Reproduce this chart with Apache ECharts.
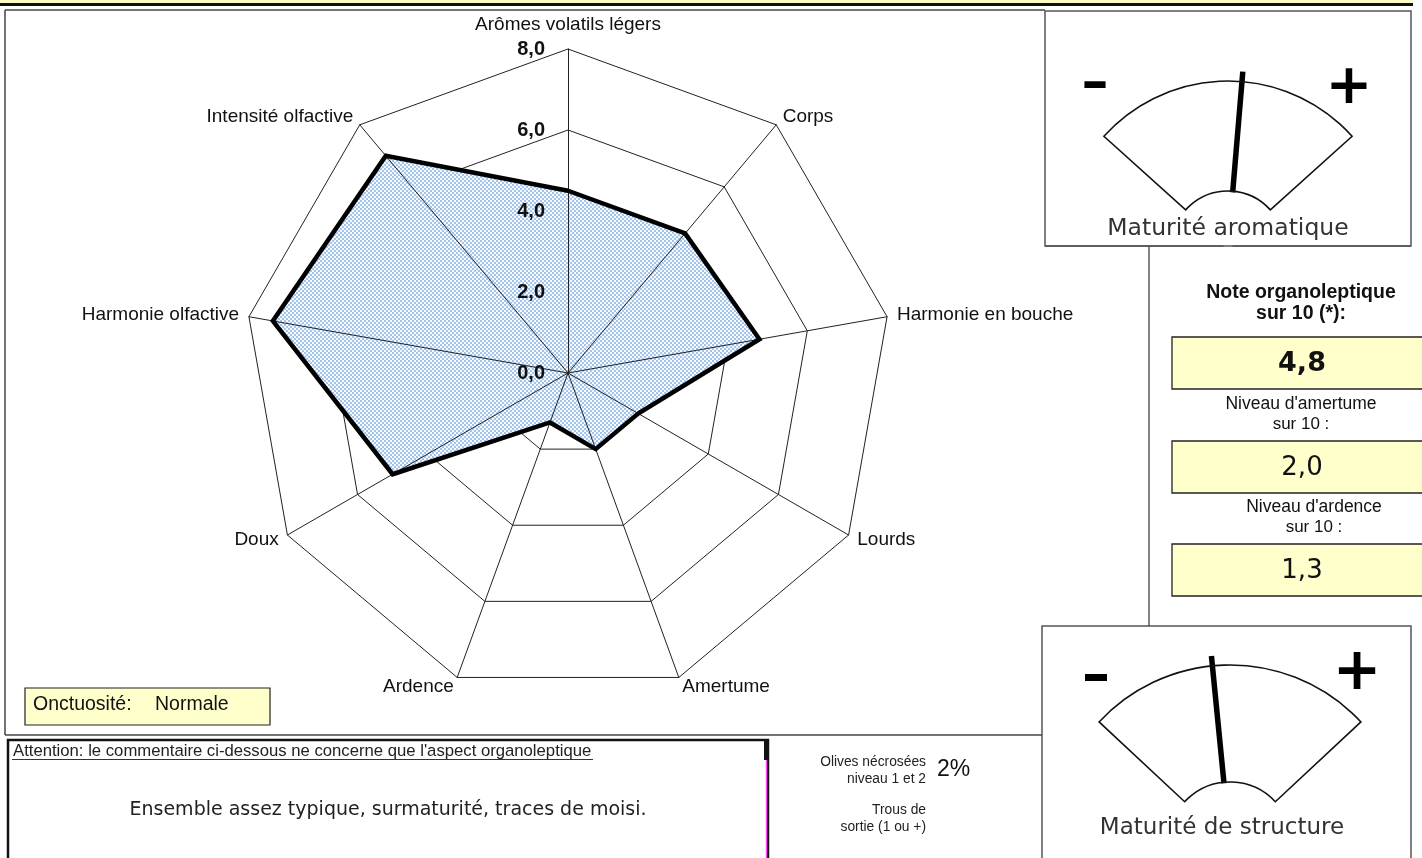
<!DOCTYPE html>
<html><head><meta charset="utf-8">
<script src="https://cdn.jsdelivr.net/npm/echarts@6.0.0/dist/echarts.min.js"></script>
<style>html,body{margin:0;padding:0;background:#fff}#c{width:1422px;height:858px}</style>
</head><body><div id="c"></div>
<script>
// ---- data (radar axes listed clockwise from the top) ----
const attributes = ['Arômes volatils légers', 'Corps', 'Harmonie en bouche', 'Lourds', 'Amertume', 'Ardence', 'Doux', 'Harmonie olfactive', 'Intensité olfactive'];
const profileValues = [4.5, 4.5, 4.8, 2.0, 2.0, 1.3, 5.0, 7.4, 7.0];
const scaleMin = 0;
const scaleMax = 8;
const scaleStep = 2;
const scoreTitles = [['Note organoleptique', 'sur 10 (*):'], ["Niveau d'amertume", 'sur 10 :'], ["Niveau d'ardence", 'sur 10 :']];
const scoreValues = [4.8, 2.0, 1.3];
const gaugeTitles = ['Maturité aromatique', 'Maturité de structure'];
const gaugeValues = [5.5, 4.4];
const necrosis = [['Olives nécrosées', 'niveau 1 et 2'], ['Trous de', 'sortie (1 ou +)']];
const necrosisValues = ['2%', ''];
const onctuosite = ['Onctuosité:', 'Normale'];
const commentHeader = "Attention: le commentaire ci-dessous ne concerne que l'aspect organoleptique";
const commentText = 'Ensemble assez typique, surmaturité, traces de moisi.';

// ---- helpers ----
const NARROW = '"Liberation Sans Narrow", "Arial Narrow", "Liberation Sans", sans-serif';
const SANS = '"Liberation Sans", Arial, sans-serif';
const VERD = '"DejaVu Sans", Verdana, sans-serif';
const fmt = v => v.toFixed(1).replace('.', ',');

function text(x, y, t, size, family, opt) {
  opt = opt || {};
  return { type: 'text', x: x, y: y, z: opt.z || 12, silent: true,
    style: { text: t, fontSize: size, fontFamily: family, fontWeight: opt.weight || 'normal',
      fill: opt.color || '#111', align: opt.align || 'center', verticalAlign: opt.valign || 'middle' } };
}
function line(x1, y1, x2, y2, color, w, z) {
  return { type: 'line', z: z || 1, silent: true, shape: { x1, y1, x2, y2 }, style: { stroke: color, lineWidth: w } };
}
function rect(x, y, w, h, fill, stroke, lw, z) {
  return { type: 'rect', z: z || 0, silent: true, shape: { x, y, width: w, height: h }, style: { fill: fill, stroke: stroke, lineWidth: lw } };
}

// dotted pattern fill (opaque, like the reference hatching)
const pat = document.createElement('canvas');
pat.width = 4; pat.height = 4;
const pc = pat.getContext('2d');
pc.fillStyle = '#f6f9fd'; pc.fillRect(0, 0, 4, 4);
pc.fillStyle = '#a3c4eb';
pc.fillRect(0, 0, 2, 2); pc.fillRect(2, 2, 2, 2);

// ECharts radar goes counter-clockwise: reorder so the picture reads clockwise
const order = [0].concat(attributes.map((_, i) => i).slice(1).reverse());
const indicators = order.map((i, k) => {
  const o = { name: attributes[i], min: scaleMin, max: scaleMax };
  if (k === 0) o.nameGap = 24;
  return o;
});
const radarVals = order.map(i => profileValues[i]);

// gauges geometry
const gauges = [
  { c: [1228, 248], r: 167, r0: 57, half: 48, len: 177 },
  { c: [1230, 844], r: 179, r0: 62, half: 47, len: 189 }
];
const D = Math.PI / 180;

const g = [];
// top band
g.push(rect(0, 0, 1413, 3, '#fdfbc4', null, 0));
g.push(line(0, 4.5, 1413, 4.5, '#111', 3));
// main frame
g.push(line(5, 10, 1045, 10, '#444', 1.5));
g.push(line(5, 10, 5, 735, '#444', 1.5));
g.push(line(5, 735, 1042, 735, '#444', 1.5));
g.push(line(1149, 246, 1149, 626, '#333', 1.2));
// gauge boxes
g.push(rect(1045, 11, 366, 235, '#fff', '#555', 1.5));
g.push(rect(1042, 626, 369, 260, '#fff', '#555', 1.5));
gauges.forEach((G, i) => {
  const sa = -(90 + G.half) * D, ea = -(90 - G.half) * D;
  g.push({ type: 'sector', z: 10, silent: true, shape: { cx: G.c[0], cy: G.c[1], r: G.r0 - 1, r0: 0, startAngle: sa, endAngle: ea, clockwise: true }, style: { fill: '#fff' } });
  g.push({ type: 'circle', z: 10, silent: true, shape: { cx: G.c[0], cy: G.c[1], r: 5 }, style: { fill: '#fff' } });
  g.push({ type: 'sector', z: 11, silent: true, shape: { cx: G.c[0], cy: G.c[1], r: G.r, r0: G.r0, startAngle: sa, endAngle: ea, clockwise: true }, style: { fill: 'none', stroke: '#111', lineWidth: 1.6 } });
});
g.push(line(1045, 246, 1411, 246, '#555', 1.5, 12));
g.push(text(1095, 85, '–', 54, VERD, { weight: 'bold', color: '#000' }));
g.push(text(1349, 88, '+', 56, VERD, { weight: 'bold', color: '#000' }));
g.push(text(1228, 229, gaugeTitles[0], 23.5, VERD, { color: '#333' }));
g.push(text(1096, 678, '–', 56, VERD, { weight: 'bold', color: '#000' }));
g.push(text(1357, 674, '+', 58, VERD, { weight: 'bold', color: '#000' }));
g.push(text(1222, 828, gaugeTitles[1], 23, VERD, { color: '#333' }));

// right panel
const titleY = [[293, 314], [404, 424], [507, 527]];
const titleX = [1301, 1301, 1314];
const boxY = [337, 441, 544];
scoreTitles.forEach((t, i) => {
  const bold = i === 0;
  g.push(text(titleX[i], titleY[i][0], t[0], bold ? 19.5 : 17.5, SANS, { weight: bold ? 'bold' : 'normal' }));
  g.push(text(titleX[i], titleY[i][1], t[1], bold ? 19.5 : 17, SANS, { weight: bold ? 'bold' : 'normal' }));
  g.push(rect(1172, boxY[i], 262, 52, '#ffffcc', '#222', 1.3));
  g.push(text(1302, boxY[i] + 27, fmt(scoreValues[i]), bold ? 27 : 26, VERD, { weight: bold ? 'bold' : 'normal', color: '#111' }));
});

// onctuosité box
g.push(rect(25, 688, 245, 37, '#ffffcc', '#222', 1.2));
g.push(text(33, 705, onctuosite[0], 19.5, NARROW, { align: 'left' }));
g.push(text(155, 705, onctuosite[1], 19.5, NARROW, { align: 'left' }));

// comment box
g.push(rect(8, 740, 760, 140, 'none', '#111', 2.5));
g.push(rect(764, 740, 5, 20, '#111', null, 0, 1));
g.push(line(766.5, 760, 766.5, 858, '#ff4dff', 1.5, 2));
g.push(text(13, 751, commentHeader, 16.7, NARROW, { align: 'left', color: '#222' }));
g.push(line(12, 759.5, 593, 759.5, '#333', 1));
g.push(text(388, 810, commentText, 19, VERD, { color: '#222' }));

// olives
const olY = [[762, 779], [810, 827]];
necrosis.forEach((t, i) => {
  g.push(text(926, olY[i][0], t[0], 13.8, SANS, { align: 'right', color: '#222' }));
  g.push(text(926, olY[i][1], t[1], 13.8, SANS, { align: 'right', color: '#222' }));
  if (necrosisValues[i]) g.push(text(937, (olY[i][0] + olY[i][1]) / 2 - 1, necrosisValues[i], 23, SANS, { align: 'left', color: '#111' }));
});

function gaugeSeries(G, value) {
  return { type: 'gauge', center: G.c, radius: G.len, startAngle: 90 + G.half, endAngle: 90 - G.half,
    min: 0, max: 10, z: 3, animation: false, silent: true,
    axisLine: { show: false }, splitLine: { show: false }, axisTick: { show: false }, axisLabel: { show: false },
    progress: { show: false }, anchor: { show: false }, title: { show: false }, detail: { show: false },
    pointer: { show: true, icon: 'rect', length: '100%', width: 5.5, offsetCenter: [0, 0], itemStyle: { color: '#000' } },
    data: [{ value: value }] };
}

const radarBase = {
  center: [568, 373], radius: 324, startAngle: 90, splitNumber: (scaleMax - scaleMin) / scaleStep,
  shape: 'polygon', nameGap: 10, indicator: indicators,
  splitArea: { show: false }, axisTick: { show: false }, axisLabel: { show: false }
};

const chart = echarts.init(document.getElementById('c'), null, { renderer: 'canvas' });
chart.setOption({
  animation: false,
  backgroundColor: '#fff',
  graphic: { elements: g },
  radar: [
    Object.assign({}, radarBase, {
      z: 0,
      axisName: { color: '#111', fontSize: 19, fontFamily: NARROW, verticalAlign: 'middle' },
      splitLine: { lineStyle: { color: '#222', width: 1 } },
      axisLine: { show: false }
    }),
    Object.assign({}, radarBase, {
      z: 3,
      axisName: { show: false },
      splitLine: { show: false },
      axisLine: { lineStyle: { color: '#222', width: 1 } }
    })
  ],
  grid: { left: 568, top: 373 - 324, width: 1, height: 324, outerBoundsMode: 'none' },
  xAxis: { type: 'value', show: false, min: 0, max: 1 },
  yAxis: { type: 'value', min: scaleMin, max: scaleMax, interval: scaleStep, z: 10,
    axisLine: { show: false }, axisTick: { show: false }, splitLine: { show: false },
    axisLabel: { margin: 23, formatter: v => fmt(v), fontWeight: 'bold', fontSize: 20, fontFamily: SANS, color: '#111' } },
  series: [
    { type: 'radar', radarIndex: 0, symbol: 'none', z: 2,
      lineStyle: { width: 0, opacity: 0 },
      areaStyle: { color: { image: pat, repeat: 'repeat' }, opacity: 1 },
      data: [{ value: radarVals }] },
    { type: 'radar', radarIndex: 0, symbol: 'none', z: 4,
      lineStyle: { color: '#000', width: 4.5, join: 'miter' },
      data: [{ value: radarVals }] },
    { type: 'scatter', xAxisIndex: 0, yAxisIndex: 0, data: [] },
    gaugeSeries(gauges[0], gaugeValues[0]),
    gaugeSeries(gauges[1], gaugeValues[1])
  ]
});
</script></body></html>
